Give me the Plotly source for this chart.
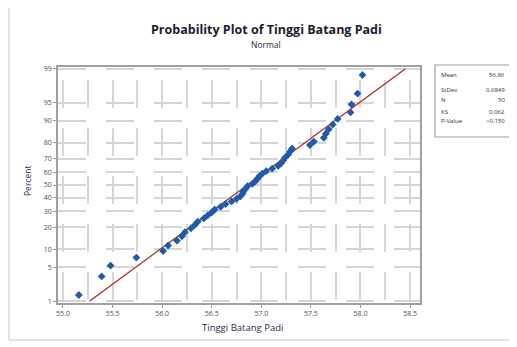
import plotly.graph_objects as go
from statistics import NormalDist

# ---- data ----
tinggi = [55.16, 55.39, 55.48, 55.74, 56.01, 56.06, 56.15, 56.20, 56.23, 56.29,
          56.33, 56.36, 56.42, 56.46, 56.50, 56.53, 56.59, 56.64, 56.70, 56.75,
          56.79, 56.81, 56.82, 56.84, 56.86, 56.91, 56.94, 56.96, 56.98, 57.01,
          57.05, 57.11, 57.17, 57.20, 57.22, 57.24, 57.27, 57.29, 57.31, 57.49,
          57.53, 57.63, 57.65, 57.68, 57.72, 57.77, 57.90, 57.91, 57.97, 58.02]
percent_ticks = [1, 5, 10, 20, 30, 40, 50, 60, 70, 80, 90, 95, 99]
x_ticks = [55.0, 55.5, 56.0, 56.5, 57.0, 57.5, 58.0, 58.5]
stat_labels = ["Mean", "StDev", "N", "KS", "P-Value"]
stat_values = ["56.86", "0.6849", "50", "0.062", ">0.150"]
MEAN = 56.86
STDEV = 0.6849

nd = NormalDist()
n = len(tinggi)
xs = sorted(tinggi)
# Minitab median-rank plotting positions on a normal probability scale
zs = [nd.inv_cdf((i + 1 - 0.3) / (n + 0.4)) for i in range(n)]
pct = [100 * (i + 1 - 0.3) / (n + 0.4) for i in range(n)]
tick_z = [nd.inv_cdf(p / 100) for p in percent_ticks]
line_z = [nd.inv_cdf(0.01), nd.inv_cdf(0.99)]
line_x = [MEAN + STDEV * z for z in line_z]

OFF = 8  # page body margin offset
W, H = 517 - OFF, 347 - OFF
L, R, T, B = 58 - OFF, 97, 67 - OFF, 44
pw, ph = W - L - R, H - T - B


def px(x):  # reference-image pixel -> paper
    return (x - OFF - L) / pw


def py(y):
    return (H - B - (y - OFF)) / ph


GRID = "#d6d6d6"
TXT = "#2b2b45"
FONT = "Open Sans"

fig = go.Figure()
fig.add_trace(go.Scatter(x=line_x, y=line_z, mode="lines",
                         line=dict(color="#a8281f", width=1.2), hoverinfo="skip"))
fig.add_trace(go.Scatter(x=xs, y=zs, mode="markers", customdata=pct,
                         marker=dict(symbol="diamond", size=6, color="#1f5ba8"),
                         hovertemplate="%{x}<br>%{customdata:.1f}%<extra></extra>"))

fig.update_layout(
    width=W, height=H, margin=dict(l=L, r=R, t=T, b=B),
    paper_bgcolor="white", plot_bgcolor="white", showlegend=False,
    font=dict(family=FONT, color=TXT),
    xaxis=dict(range=[54.95, 58.6], tickvals=x_ticks, ticktext=[f"{v:.1f}" for v in x_ticks],
               ticks="outside", ticklen=3, tickcolor="#999", tickfont=dict(size=7, color="#4a4a66"),
               showline=True, mirror=True, linecolor="#a0a0a0", linewidth=1.5,
               showgrid=True, gridcolor=GRID, gridwidth=1.8, griddash="0px,13px,28px,7px",
               minor=dict(dtick=0.25, tick0=55.0, showgrid=True, gridcolor=GRID, gridwidth=1.8,
                          griddash="0px,13px,28px,7px", ticklen=0),
               zeroline=False),
    yaxis=dict(range=[-2.36, 2.36], tickvals=tick_z, ticktext=[str(p) for p in percent_ticks],
               ticks="outside", ticklen=3, tickcolor="#999", tickfont=dict(size=7, color="#4a4a66"),
               showline=True, mirror=True, linecolor="#a0a0a0", linewidth=1.5,
               showgrid=True, gridcolor=GRID, gridwidth=1.8, griddash="28px,20px",
               zeroline=False),
)

ann = []
ann.append(dict(text="<b>Probability Plot of Tinggi Batang Padi</b>", x=px(266), y=py(30),
                xref="paper", yref="paper", showarrow=False, xanchor="center", yanchor="middle",
                font=dict(size=12.5, color="#1c1c30")))
ann.append(dict(text="Normal", x=px(266), y=py(44), xref="paper", yref="paper", showarrow=False,
                xanchor="center", yanchor="middle", font=dict(size=8.5, color=TXT)))
ann.append(dict(text="Tinggi Batang Padi", x=px(242), y=py(327), xref="paper", yref="paper",
                showarrow=False, xanchor="center", yanchor="middle", font=dict(size=9.5, color=TXT)))
ann.append(dict(text="Percent", x=px(27), y=py(181), xref="paper", yref="paper", showarrow=False,
                textangle=-90, xanchor="center", yanchor="middle", font=dict(size=8.5, color=TXT)))
row_y = [75, 90, 100, 112, 121]
for lab, val, yy in zip(stat_labels, stat_values, row_y):
    ann.append(dict(text=lab, x=px(439), y=py(yy), xref="paper", yref="paper", showarrow=False,
                    xanchor="left", yanchor="middle", font=dict(size=6, color=TXT)))
    ann.append(dict(text=val, x=px(507), y=py(yy), xref="paper", yref="paper", showarrow=False,
                    xanchor="right", yanchor="middle", font=dict(size=6, color=TXT)))
fig.update_layout(annotations=ann)

fig.add_shape(type="rect", xref="paper", yref="paper", x0=px(435), x1=px(513), y0=py(137), y1=py(65),
              line=dict(color="#a0a0a0", width=1.2), fillcolor="white")
fig.add_shape(type="line", xref="paper", yref="paper", x0=px(9), x1=px(9), y0=py(OFF), y1=py(340),
              line=dict(color="#c8c8c8", width=1))
fig.add_shape(type="line", xref="paper", yref="paper", x0=px(9), x1=px(517), y0=py(340), y1=py(340),
              line=dict(color="#c8c8c8", width=1))

fig.write_html("out.html")
